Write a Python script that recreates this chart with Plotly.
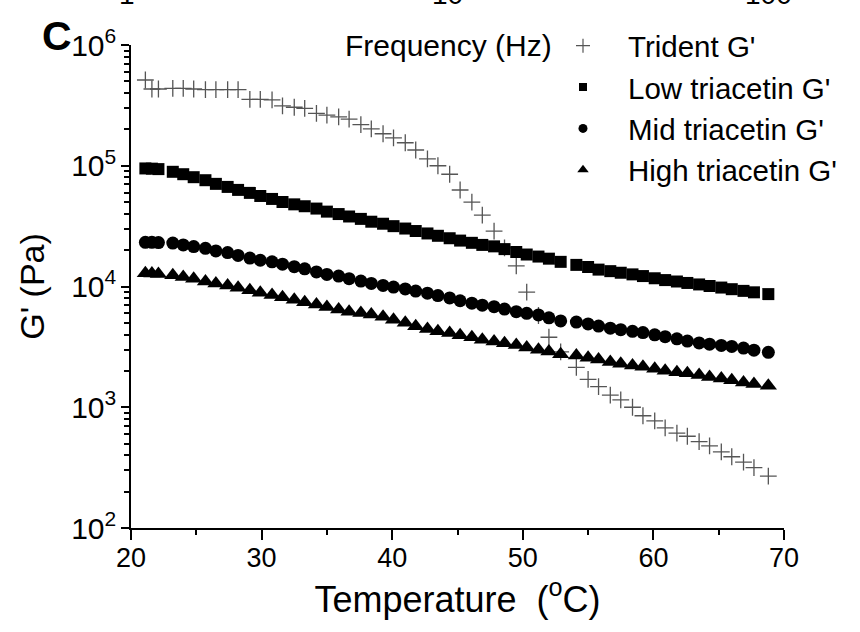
import plotly.graph_objects as go

# ---- data ----
temperature = [21.1, 21.6, 22.1, 23.2, 24.0, 24.8, 25.7, 26.5, 27.4, 28.2,
               29.1, 29.9, 30.8, 31.6, 32.5, 33.3, 34.2, 35.0, 35.9, 36.7,
               37.6, 38.4, 39.3, 40.1, 41.0, 41.8, 42.7, 43.5, 44.4, 45.2,
               46.1, 46.9, 47.8, 48.6, 49.5, 50.3, 51.2, 52.0, 52.9, 54.1,
               55.0, 55.8, 56.7, 57.5, 58.4, 59.2, 60.1, 60.9, 61.8, 62.6,
               63.5, 64.3, 65.2, 66.0, 66.9, 67.7, 68.8]

trident = [513000, 432000, 432000, 437000, 437000, 432000, 427000, 427000, 427000, 427000,
           355000, 355000, 351000, 313000, 305000, 299000, 272000, 263000, 254000, 243000,
           219000, 202000, 184000, 170000, 155000, 135000, 114000, 100000, 85000, 63000,
           50000, 39000, 28800, 20900, 14800, 9000, 5750, 3800, 2880, 2140,
           1700, 1480, 1260, 1150, 1000, 850, 770, 676, 610, 575,
           520, 479, 427, 389, 351, 316, 269]

low_triacetin = [95000, 94600, 93800, 89100, 85100, 80400, 75900, 70800, 66800, 63100,
                 59600, 56200, 53100, 50100, 47900, 46200, 44200, 41700, 39800, 38000,
                 36300, 34400, 33100, 31600, 30200, 28800, 27500, 26300, 25100, 24000,
                 23000, 22100, 21500, 20400, 19300, 18400, 17700, 17000, 16000, 15100,
                 14500, 13800, 13400, 13000, 12600, 12200, 11700, 11300, 11000, 10700,
                 10400, 10100, 9800, 9500, 9200, 8950, 8650]

mid_triacetin = [23200, 23200, 23100, 22900, 22100, 21400, 20700, 19700, 19100, 18100,
                 17200, 16500, 16000, 15300, 14600, 14000, 13200, 12600, 12200, 11600,
                 11100, 10600, 10200, 9900, 9550, 9160, 8800, 8410, 8040, 7620,
                 7280, 7000, 6810, 6500, 6190, 6000, 5820, 5500, 5190, 5070,
                 4900, 4700, 4520, 4390, 4250, 4150, 3980, 3840, 3690, 3530,
                 3410, 3330, 3250, 3190, 3090, 2970, 2850]

high_triacetin = [12900, 12800, 12700, 12400, 12000, 11600, 11000, 10600, 10200, 9770,
                  9330, 8870, 8510, 8130, 7760, 7410, 7080, 6760, 6460, 6170,
                  6030, 5860, 5620, 5310, 5010, 4680, 4450, 4270, 4120, 3950,
                  3800, 3630, 3510, 3390, 3270, 3130, 2990, 2900, 2750, 2680,
                  2570, 2480, 2370, 2290, 2220, 2160, 2080, 2010, 1950, 1910,
                  1850, 1780, 1730, 1670, 1600, 1560, 1510]

series_names = ["Trident G'", "Low triacetin G'", "Mid triacetin G'", "High triacetin G'"]
top_tick_labels = ["1", "10", "100"]
x_ticks = [20, 30, 40, 50, 60, 70]

FONT = "Liberation Sans, Arial, sans-serif"

series = [
    (trident, dict(symbol="cross-thin", size=12, color="#555555", line=dict(width=1.3, color="#555555"))),
    (low_triacetin, dict(symbol="square", size=12, color="black")),
    (mid_triacetin, dict(symbol="circle", size=13, color="black")),
    (high_triacetin, dict(symbol="triangle-up", size=15, color="black")),
]
legend_markers = [
    dict(symbol="cross-thin", size=10, color="#555555", line=dict(width=1.2, color="#555555")),
    dict(symbol="square", size=8, color="black"),
    dict(symbol="circle", size=9, color="black"),
    dict(symbol="triangle-up", size=10, color="black"),
]

fig = go.Figure()
for (vals, mk) in series:
    fig.add_trace(go.Scatter(x=temperature, y=vals, mode="markers", marker=mk,
                             showlegend=False, cliponaxis=False))
for i, (name, mk) in enumerate(zip(series_names, legend_markers)):
    fig.add_trace(go.Scatter(x=[None], y=[None], mode="markers", marker=mk,
                             name=name, legendgroup=f"g{i}", showlegend=True))

axis_common = dict(showline=True, linecolor="black", linewidth=2, mirror=False,
                   ticks="outside", tickcolor="black", tickwidth=2,
                   showgrid=False, zeroline=False)

fig.update_xaxes(range=[20, 70], tickvals=x_ticks, ticklen=10, ticklabelstandoff=-5,
                 tickfont=dict(family=FONT, size=27, color="black"),
                 minor=dict(ticks="outside", dtick=5, tick0=20, ticklen=5, tickwidth=2,
                            tickcolor="black"),
                 title=dict(text="Temperature  (<sup>o</sup>C)",
                            font=dict(family=FONT, size=36, color="black"), standoff=6),
                 **axis_common)
fig.update_yaxes(type="log", range=[2, 6], dtick=1, exponentformat="power", ticklen=8,
                 tickfont=dict(family=FONT, size=24, color="black"),
                 minor=dict(ticks="outside", dtick="D1", ticklen=5, tickwidth=1.5,
                            tickcolor="black"),
                 title=dict(text="G' (Pa)", font=dict(family=FONT, size=34, color="black"),
                            standoff=16),
                 **axis_common)

W, H = 860, 632
L, R, T, B = 131, 76, 45, 104
pw, ph = W - L - R, H - T - B


def px(xp):
    return (xp - L) / pw


def py(yp):
    return 1 - (yp - T) / ph


fig.update_layout(
    width=W, height=H,
    margin=dict(l=L, r=R, t=T, b=B, autoexpand=False),
    paper_bgcolor="white", plot_bgcolor="white",
    showlegend=True,
    legend=dict(x=px(538), y=py(20), xanchor="left", yanchor="top",
                bgcolor="rgba(0,0,0,0)", font=dict(family=FONT, size=29.5, color="black"),
                traceorder="grouped", tracegroupgap=0, itemwidth=80),
)

ann = []
ann.append(dict(text="<b>C</b>", x=px(57), y=py(36), xref="paper", yref="paper",
                showarrow=False, font=dict(family=FONT, size=41, color="black"),
                xanchor="center", yanchor="middle"))
ann.append(dict(text="Frequency (Hz)", x=px(448), y=py(45), xref="paper", yref="paper",
                showarrow=False, font=dict(family=FONT, size=30, color="black"),
                xanchor="center", yanchor="middle"))
for lab, xp in zip(top_tick_labels, [127, 447, 768]):
    ann.append(dict(text=lab, x=px(xp), y=py(12), xref="paper", yref="paper",
                    showarrow=False, font=dict(family=FONT, size=28, color="black"),
                    xanchor="center", yanchor="bottom"))
fig.update_layout(annotations=ann)

fig.write_html("out.html")
